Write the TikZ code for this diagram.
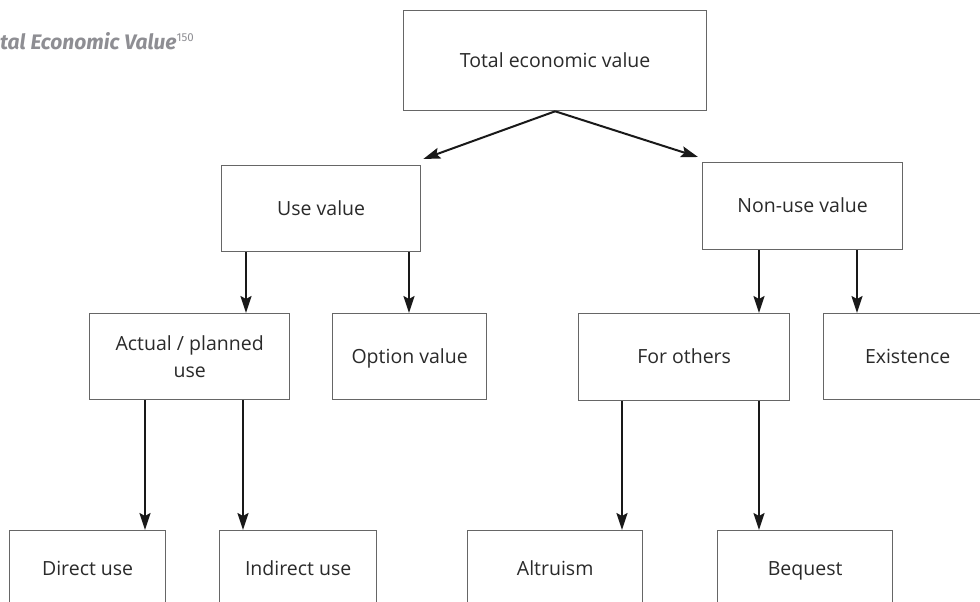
\documentclass[tikz,border=0pt]{standalone}
\usepackage{fontspec}
\setmainfont{Open Sans}
\newfontfamily\titlefont{Fira Sans}
\usetikzlibrary{arrows.meta,calc}
\definecolor{boxline}{HTML}{666666}
\definecolor{txt}{HTML}{2A2A2A}
\definecolor{ttl}{HTML}{8E8E93}
\begin{document}
\begin{tikzpicture}[x=1pt,y=-1pt,
  box/.style={draw=boxline,line width=1.3pt,fill=white,text=txt,
    font=\fontsize{19.5}{27}\selectfont,align=center,inner sep=0pt,anchor=north west},
  fixh/.style={text height=17pt,text depth=4pt},
  arr/.style={draw=black!90,line width=2pt,-{Stealth[length=17pt,width=11pt,inset=3pt]}}]
\useasboundingbox (0,0) rectangle (980,602);
\clip (0,0) rectangle (980,602);
\fill[white] (0,0) rectangle (980,602);
% title
\node[anchor=base west,inner sep=0pt,text=ttl,
  font=\titlefont\bfseries\itshape\fontsize{21}{24}\selectfont] (title) at (0,49.5)
  {tal Economic Value{\normalfont\titlefont\fontsize{11.5}{12}\selectfont\raisebox{7.5pt}{150}}};
% boxes
\node[box,fixh,minimum width=303pt,minimum height=100pt] (tev) at (403,10) {Total economic value};
\node[box,fixh,minimum width=199pt,minimum height=86pt] (use) at (221,165) {Use value};
\node[box,fixh,minimum width=200pt,minimum height=87pt] (nonuse) at (702,162) {Non-use value};
\node[box,minimum width=200pt,minimum height=86pt] (actual) at (89,313) {Actual / planned\\use};
\node[box,fixh,minimum width=154pt,minimum height=86pt] (option) at (332,313) {Option value};
\node[box,fixh,minimum width=211pt,minimum height=87pt] (forothers) at (578,313) {For others};
\node[box,fixh,minimum width=168pt,minimum height=86pt] (existence) at (823,313) {Existence};
\node[box,fixh,minimum width=156pt,minimum height=76pt] (direct) at (9,530) {Direct use};
\node[box,fixh,minimum width=157pt,minimum height=76pt] (indirect) at (219,530) {Indirect use};
\node[box,fixh,minimum width=175pt,minimum height=76pt] (altruism) at (467,530) {Altruism};
\node[box,fixh,minimum width=175pt,minimum height=76pt] (bequest) at (717,530) {Bequest};
% connectors
\draw[arr] (tev.south) -- ($(use.north east)+(2,-6)$);
\draw[arr] (tev.south) -- ($(nonuse.north west)+(-4,-5)$);
\draw[arr] ($(use.south west)+(25,0)$) -- ($(actual.north west)+(157,0)$);
\draw[arr] ($(use.south west)+(188,0)$) -- ($(option.north west)+(77,0)$);
\draw[arr] ($(nonuse.south west)+(57,0)$) -- ($(forothers.north west)+(181,0)$);
\draw[arr] ($(nonuse.south west)+(155,0)$) -- ($(existence.north west)+(34,0)$);
\draw[arr] ($(actual.south west)+(56,0)$) -- ($(direct.north west)+(136,0)$);
\draw[arr] ($(actual.south west)+(154,0)$) -- ($(indirect.north west)+(24,0)$);
\draw[arr] ($(forothers.south west)+(44,0)$) -- ($(altruism.north west)+(155,0)$);
\draw[arr] ($(forothers.south west)+(181,0)$) -- ($(bequest.north west)+(42,0)$);
\end{tikzpicture}
\end{document}
